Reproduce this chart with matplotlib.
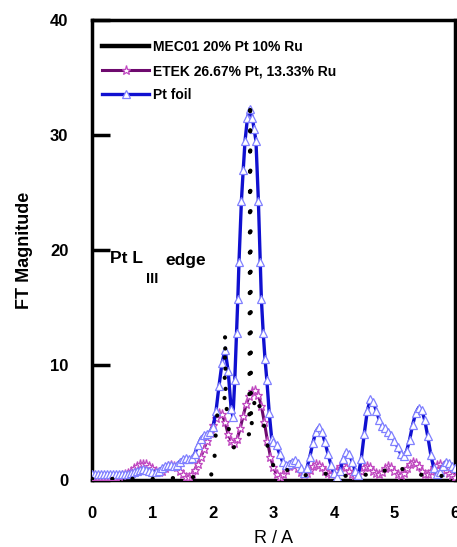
import matplotlib

matplotlib.use("Agg")
import matplotlib.pyplot as plt
from matplotlib.lines import Line2D

plt.rcParams["font.family"] = ["Liberation Sans", "DejaVu Sans"]

# Pt foil reference, FT magnitude vs R
r_foil = [
    0.00, 0.05, 0.10, 0.15, 0.20, 0.25, 0.30, 0.35, 0.40, 0.45, 0.50, 0.55,
    0.60, 0.65, 0.70, 0.75, 0.80, 0.85, 0.90, 0.95, 1.00, 1.05, 1.10, 1.15,
    1.20, 1.25, 1.30, 1.35, 1.40, 1.45, 1.50, 1.55, 1.60, 1.65, 1.70, 1.75,
    1.80, 1.85, 1.90, 1.95, 2.00, 2.05, 2.10, 2.15, 2.20, 2.25, 2.30, 2.33,
    2.36, 2.39, 2.41, 2.43, 2.47, 2.50, 2.53, 2.57, 2.61, 2.65, 2.68, 2.71,
    2.75, 2.78, 2.80, 2.83, 2.86, 2.89, 2.93, 2.97, 3.00, 3.05, 3.10, 3.15,
    3.20, 3.25, 3.30, 3.35, 3.40, 3.45, 3.50, 3.55, 3.60, 3.65, 3.70, 3.75,
    3.80, 3.85, 3.90, 3.95, 4.00, 4.05, 4.10, 4.15, 4.20, 4.25, 4.30, 4.35,
    4.40, 4.45, 4.50, 4.55, 4.60, 4.65, 4.70, 4.75, 4.80, 4.85, 4.90, 4.95,
    5.00, 5.05, 5.10, 5.15, 5.20, 5.25, 5.30, 5.35, 5.40, 5.45, 5.50, 5.55,
    5.60, 5.65, 5.70, 5.75, 5.80, 5.85, 5.90, 5.95, 6.00,
]
ft_foil = [
    0.5, 0.5, 0.5, 0.5, 0.5, 0.5, 0.5, 0.5, 0.5, 0.5, 0.5, 0.5,
    0.55, 0.6, 0.7, 0.8, 0.9, 0.95, 0.9, 0.8, 0.7, 0.7, 0.8, 1.0,
    1.2, 1.3, 1.3, 1.2, 1.3, 1.6, 1.8, 1.9, 1.8, 1.9, 2.3, 3.0,
    3.6, 3.9, 4.0, 4.2, 4.6, 6.0, 8.2, 10.2, 11.3, 9.5, 6.2, 5.5,
    8.7, 12.8, 15.7, 19.0, 24.3, 27.0, 29.5, 31.5, 32.3, 31.5, 30.5, 29.5,
    24.3, 19.0, 15.7, 12.8, 10.5, 8.7, 5.8, 3.6, 3.3, 3.0, 2.3, 1.6,
    1.3, 1.4, 1.6, 1.7, 1.5, 1.0, 0.6, 1.0, 2.0, 3.2, 4.2, 4.6,
    4.2, 3.3, 2.3, 1.3, 0.6, 0.3, 0.8, 1.8, 2.4, 2.3, 1.6, 0.8,
    0.4, 1.8, 4.0, 6.0, 7.0, 6.8, 6.0, 5.2, 4.7, 4.5, 4.2, 3.9,
    3.4, 2.9, 2.3, 2.1, 2.5, 3.5, 4.8, 5.8, 6.3, 6.1, 5.2, 3.8,
    2.2, 1.0, 0.5, 0.7, 1.2, 1.6, 1.5, 1.2, 1.0,
]

# ETEK 26.67% Pt, 13.33% Ru
r_etek = [
    0.00, 0.05, 0.10, 0.15, 0.20, 0.25, 0.30, 0.35, 0.40, 0.45, 0.50, 0.55,
    0.60, 0.65, 0.70, 0.75, 0.80, 0.85, 0.90, 0.95, 1.00, 1.05, 1.10, 1.15,
    1.20, 1.25, 1.30, 1.35, 1.40, 1.45, 1.50, 1.55, 1.60, 1.65, 1.70, 1.75,
    1.80, 1.85, 1.90, 1.95, 2.00, 2.05, 2.10, 2.15, 2.20, 2.25, 2.30, 2.35,
    2.40, 2.45, 2.50, 2.55, 2.60, 2.65, 2.70, 2.75, 2.80, 2.85, 2.90, 2.95,
    3.00, 3.05, 3.10, 3.15, 3.20, 3.25, 3.30, 3.35, 3.40, 3.45, 3.50, 3.55,
    3.60, 3.65, 3.70, 3.75, 3.80, 3.85, 3.90, 3.95, 4.00, 4.05, 4.10, 4.15,
    4.20, 4.25, 4.30, 4.35, 4.40, 4.45, 4.50, 4.55, 4.60, 4.65, 4.70, 4.75,
    4.80, 4.85, 4.90, 4.95, 5.00, 5.05, 5.10, 5.15, 5.20, 5.25, 5.30, 5.35,
    5.40, 5.45, 5.50, 5.55, 5.60, 5.65, 5.70, 5.75, 5.80, 5.85, 5.90, 5.95,
    6.00,
]
ft_etek = [
    0.3, 0.3, 0.3, 0.3, 0.3, 0.3, 0.3, 0.3, 0.3, 0.35, 0.4, 0.5,
    0.6, 0.8, 1.0, 1.2, 1.35, 1.4, 1.35, 1.2, 1.0, 0.8, 0.7, 0.8,
    1.0, 1.2, 1.3, 1.25, 1.1, 0.8, 0.5, 0.3, 0.3, 0.5, 0.9, 1.4,
    2.0, 2.7, 3.4, 4.1, 4.8, 5.4, 5.8, 5.7, 5.0, 4.0, 3.4, 3.2,
    3.6, 4.5, 5.6, 6.6, 7.3, 7.7, 7.8, 7.4, 6.4, 5.0, 3.4, 2.0,
    1.1, 0.5, 0.3, 0.5, 0.9, 1.2, 1.4, 1.3, 1.0, 0.7, 0.5, 0.6,
    0.9, 1.2, 1.4, 1.3, 1.1, 0.8, 0.6, 0.5, 0.6, 0.9, 1.2, 1.3,
    1.1, 0.8, 0.5, 0.4, 0.5, 0.8, 1.1, 1.2, 1.1, 0.8, 0.6, 0.5,
    0.7, 1.0, 1.2, 1.1, 0.8, 0.5, 0.4, 0.6, 1.0, 1.4, 1.6, 1.5,
    1.2, 0.8, 0.5, 0.5, 0.8, 1.1, 1.3, 1.4, 1.2, 0.9, 0.6, 0.4,
    0.3,
]

# MEC01 20% Pt 10% Ru
r_mec = [
    0.00, 0.50, 1.00, 1.50, 1.80, 1.97, 1.98, 2.02, 2.06, 2.12, 2.19, 2.20,
    2.21, 2.27, 2.33, 2.40, 2.47, 2.55, 2.60, 2.615, 2.63, 2.70, 2.80, 2.90,
    3.00, 3.10, 3.20, 3.30, 3.50, 3.80, 4.10, 4.40, 4.70, 5.00, 5.30, 5.60,
    6.00,
]
ft_mec = [
    0.1, 0.1, 0.1, 0.2, 0.3, 0.3, 1.3, 1.4, 5.5, 6.2, 6.5, 12.8,
    7.0, 4.0, 2.8, 3.0, 3.5, 3.8, 4.0, 33.0, 4.5, 7.4, 6.0, 3.0,
    1.2, 0.6, 1.0, 0.5, 0.4, 0.6, 0.3, 0.5, 0.4, 1.3, 0.5, 0.4,
    0.3,
]

fig = plt.figure(figsize=(4.57, 5.47), dpi=100)
ax = fig.add_axes([0.2013, 0.1225, 0.7943, 0.8409])

ax.plot(r_etek, ft_etek, color="#6e0a6e", lw=2.2, marker="*", ms=6.5,
        mfc="white", mec="#c048c0", mew=0.9, zorder=3,
        label="ETEK 26.67% Pt, 13.33% Ru")
ax.plot(r_foil, ft_foil, color="#1010d0", lw=2.4, marker="^", ms=5.5,
        mfc="white", mec="#8080ff", mew=0.9, zorder=4, label="Pt foil")
ax.plot(r_mec, ft_mec, color="black", lw=3, linestyle=(0, (0.05, 4.8)),
        dash_capstyle="round", zorder=5)

# legend entries in the original order
h_etek, h_foil = ax.get_lines()[0], ax.get_lines()[1]
h_mec = Line2D([], [], color="black", lw=3.2)
ax.legend([h_mec, h_etek, h_foil],
          ["MEC01 20% Pt 10% Ru", "ETEK 26.67% Pt, 13.33% Ru", "Pt foil"],
          loc="upper left", bbox_to_anchor=(0.0275, 0.956), frameon=False,
          borderpad=0, borderaxespad=0, handlelength=3.4, handletextpad=0.25,
          labelspacing=0.72, prop={"weight": "bold", "size": 10})

# edge annotation
ax.text(0.30, 19.3, "Pt L", fontsize=12.5, fontweight="bold", va="center")
ax.text(0.99, 17.5, "III", fontsize=10.5, fontweight="bold", va="center",
        ha="center")
ax.text(1.21, 19.1, "edge", fontsize=12.5, fontweight="bold", va="center")

ax.set_xlim(0, 6)
ax.set_ylim(0, 40)
ax.set_xticks(range(0, 7))
ax.set_yticks(range(0, 41, 10))
ax.tick_params(axis="y", direction="in", length=13, width=2.5, pad=17,
               labelsize=12)
ax.tick_params(axis="x", length=0, pad=19, labelsize=12)
for lab in ax.get_xticklabels() + ax.get_yticklabels():
    lab.set_fontweight("bold")
for side in ax.spines.values():
    side.set_linewidth(2.5)

ax.set_xlabel("R / A", fontsize=13, labelpad=6)
ax.set_ylabel("FT Magnitude", fontsize=13, fontweight="bold", labelpad=12)

fig.savefig("out.png", dpi=100)
